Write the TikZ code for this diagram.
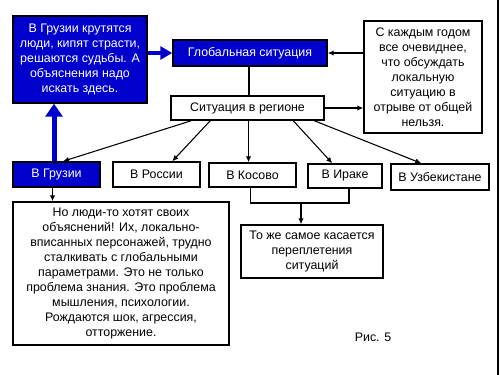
\documentclass[tikz,border=0pt]{standalone}
\usepackage{fontspec}
\setmainfont{Liberation Sans}
\usetikzlibrary{arrows.meta,calc}
\definecolor{dblue}{RGB}{0,0,205}
\begin{document}
\begin{tikzpicture}[x=0.75pt,y=-0.75pt,
  every node/.style={font=\fontsize{9.3}{11.2}\selectfont, inner sep=0pt, align=center},
  box/.style={draw=black, line width=1.1pt, fill=white, rectangle},
  bluebox/.style={box, fill=dblue, text=white},
  conn/.style={line width=0.8pt, -{Latex[length=4.5pt,width=4pt]}},
  plain/.style={line width=0.8pt},
  bigarrow/.style={draw=dblue, line width=3.75pt, -{Triangle[length=9.75pt,width=12.75pt]}},
  midarrow/.style={draw=dblue, line width=2.6pt, -{Triangle[length=9pt,width=9.75pt]}}]
\useasboundingbox (0,0) rectangle (500,375);
\fill[white] (0,0) rectangle (500,375);
\draw[line width=1.5pt] (497.5,0) -- (497.5,375);

\node[bluebox, minimum width=134*0.75pt, minimum height=87*0.75pt] (big) at (80,59.5)
  {В Грузии крутятся\\люди, кипят страсти,\\решаются судьбы. А\\объяснения надо\\искать здесь.};
\node[bluebox, minimum width=154*0.75pt, minimum height=26*0.75pt] (glob) at (250,53) {Глобальная ситуация};
\node[box, minimum width=118*0.75pt, minimum height=112*0.75pt] (right) at (423,77)
  {С каждым годом\\все очевиднее,\\что обсуждать\\локальную\\ситуацию в\\отрыве от общей\\нельзя.};
\node[box, minimum width=153*0.75pt, minimum height=24*0.75pt] (reg) at (247.5,108) {Ситуация в регионе};

\node[bluebox, minimum width=87*0.75pt, minimum height=25*0.75pt] (gru) at (56.5,174.5) {В Грузии};
\node[box, minimum width=87*0.75pt, minimum height=25*0.75pt] (ros) at (156.5,174.5) {В России};
\node[box, minimum width=87*0.75pt, minimum height=24*0.75pt] (kos) at (252.5,175) {В Косово};
\node[box, minimum width=74*0.75pt, minimum height=24*0.75pt] (irk) at (345,176) {В Ираке};
\node[box, minimum width=98*0.75pt, minimum height=26*0.75pt] (uzb) at (440,177) {В Узбекистане};

\node[box, minimum width=216*0.75pt, minimum height=143*0.75pt] (bot) at (121,273.5)
  {Но люди-то хотят своих\\объяснений! Их, локально-\\вписанных персонажей, трудно\\сталкивать с глобальными\\параметрами. Это не только\\проблема знания. Это проблема\\мышления, психологии.\\Рождаются шок, агрессия,\\отторжение.};
\node[box, minimum width=142*0.75pt, minimum height=53*0.75pt] (toje) at (312,251.5)
  {То же самое касается\\переплетения\\ситуаций};
\node (fig) at (373,337) {Рис. 5};

% helper coordinates
\coordinate (gs) at ($(glob.south)+(-1,0)$);
\coordinate (rk) at ($(reg.south)+(1,0)$);
\coordinate (gd) at ($(gru.south)+(-4,0)$);
\coordinate (gu) at ($(gru.north)+(-2.5,0)$);
\coordinate (ks) at ($(kos.south)+(-2,0)$);
\coordinate (is) at ($(irk.south)+(4,0)$);
\coordinate (j) at (301,203);

% connectors
\draw[midarrow] (big.east |- glob.west) -- (glob.west);
\draw[conn] (right.west |- glob.east) -- (glob.east);
\draw[plain] (gs) -- (gs |- reg.north);
\draw[conn] (reg.east) -- (reg.east -| right.west);

\draw[conn] ($(reg.south west)+(21,0)$) -- ($(gru.north)+(6.5,0)$);
\draw[conn] ($(reg.south west)+(40,0)$) -- ($(ros.north west)+(60,0)$);
\draw[conn] (rk) -- (rk |- kos.north);
\draw[conn] ($(reg.south west)+(123,0)$) -- ($(irk.north west)+(25,0)$);
\draw[conn] ($(reg.south west)+(144,0)$) -- ($(uzb.north west)+(31,0)$);

\draw[conn] (gd) -- (gd |- bot.north);
\draw[bigarrow] (gu) -- (gu |- big.south);

\draw[plain] (ks) |- (j) -| (is);
\draw[conn] (j) -- (j |- toje.north);
\end{tikzpicture}
\end{document}
